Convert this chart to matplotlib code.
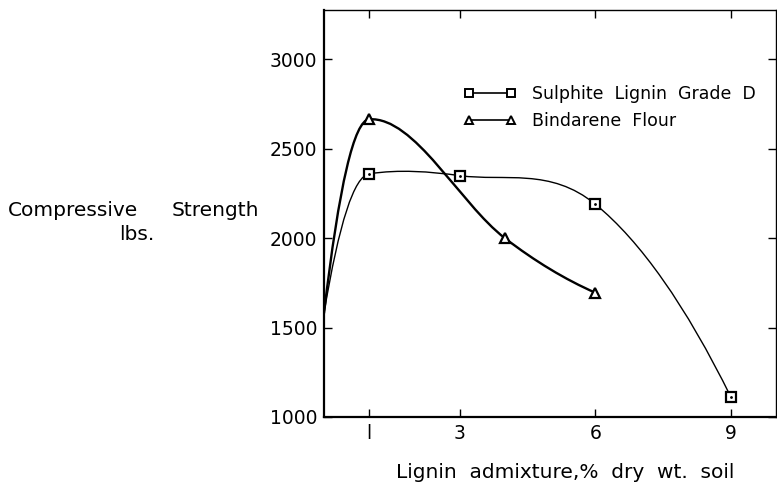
import matplotlib.pyplot as plt
import numpy as np
from matplotlib.path import Path
from matplotlib.patches import PathPatch
from matplotlib.lines import Line2D

# values
sulphite_x = [0, 1, 3, 6, 9]
sulphite_y = [1580, 2360, 2350, 2190, 1110]
bindarene_x = [0, 1, 4, 6]
bindarene_y = [1580, 2665, 2000, 1695]

x_ticks = [1, 3, 6, 9]
x_labels = ["l", "3", "6", "9"]
y_ticks = [1000, 1500, 2000, 2500, 3000]


def smooth_path(xs, ys):
    # cubic Bezier through the points; tangents eased at a peak
    xs = np.asarray(xs, float)
    ys = np.asarray(ys, float)
    n = len(xs)
    d = np.diff(ys) / np.diff(xs)
    m = np.zeros(n)
    for i in range(1, n - 1):
        m[i] = (ys[i + 1] - ys[i - 1]) / (xs[i + 1] - xs[i - 1])
        if d[i - 1] * d[i] <= 0:
            m[i] *= 0.15
    m[0] = 2 * d[0] - m[1]
    m[-1] = 2 * d[-1] - m[-2]
    verts = [(xs[0], ys[0])]
    codes = [Path.MOVETO]
    for i in range(n - 1):
        h = xs[i + 1] - xs[i]
        verts += [(xs[i] + h / 3, ys[i] + m[i] * h / 3),
                  (xs[i + 1] - h / 3, ys[i + 1] - m[i + 1] * h / 3),
                  (xs[i + 1], ys[i + 1])]
        codes += [Path.CURVE4] * 3
    return Path(verts, codes)


fig = plt.figure(figsize=(7.77, 4.86), dpi=100)
ax = fig.add_axes([0.417, 0.142, 0.582, 0.837])

ax.add_patch(PathPatch(smooth_path(sulphite_x, sulphite_y), fill=False,
                       lw=1.0, edgecolor="black"))
ax.add_patch(PathPatch(smooth_path(bindarene_x, bindarene_y), fill=False,
                       lw=1.7, edgecolor="black"))

ax.plot(sulphite_x[1:], sulphite_y[1:], ls="none", marker="s", ms=7,
        mfc="white", mec="black", mew=1.6)
ax.plot(sulphite_x[1:], sulphite_y[1:], ls="none", marker=".", ms=2,
        color="black")
ax.plot(bindarene_x[1:], bindarene_y[1:], ls="none", marker="^", ms=7,
        mfc="white", mec="black", mew=1.6)

ax.set_xlim(0, 10)
ax.set_ylim(1000, 3275)
ax.set_xticks(x_ticks)
ax.set_xticklabels(x_labels)
ax.set_yticks(y_ticks)
ax.tick_params(direction="in", length=6, width=1, labelsize=13.5, pad=5,
               top=True, right=True)
for tl in ax.yaxis.get_ticklines()[1::2]:
    tl.set_color("0.55")
for side in ["left", "bottom"]:
    ax.spines[side].set_linewidth(1.6)
for side in ["top", "right"]:
    ax.spines[side].set_linewidth(1.0)

handles = [
    Line2D([0], [0], color="black", lw=1.2, marker="s", ms=6, mfc="white",
           mec="black", mew=1.4),
    Line2D([0], [0], color="black", lw=1.2, marker="^", ms=6, mfc="white",
           mec="black", mew=1.4),
]
ax.legend(handles, ["Sulphite  Lignin  Grade  D", "Bindarene  Flour"],
          loc="upper left", bbox_to_anchor=(0.31, 0.815), frameon=False,
          borderpad=0, borderaxespad=0, numpoints=2, handlelength=3.0,
          handletextpad=0.9, labelspacing=0.5, fontsize=12.5)

fig.text(8 / 777, 1 - 210 / 486, "Compressive", fontsize=14.5, va="center",
         ha="left")
fig.text(172 / 777, 1 - 210 / 486, "Strength", fontsize=14.5, va="center",
         ha="left")
fig.text(119 / 777, 1 - 234 / 486, "lbs.", fontsize=14.5, va="center",
         ha="left")
fig.text(565 / 777, 1 - 472 / 486, "Lignin  admixture,%  dry  wt.  soil",
         fontsize=14.5, ha="center", va="center")

fig.savefig("out.png", dpi=100)
